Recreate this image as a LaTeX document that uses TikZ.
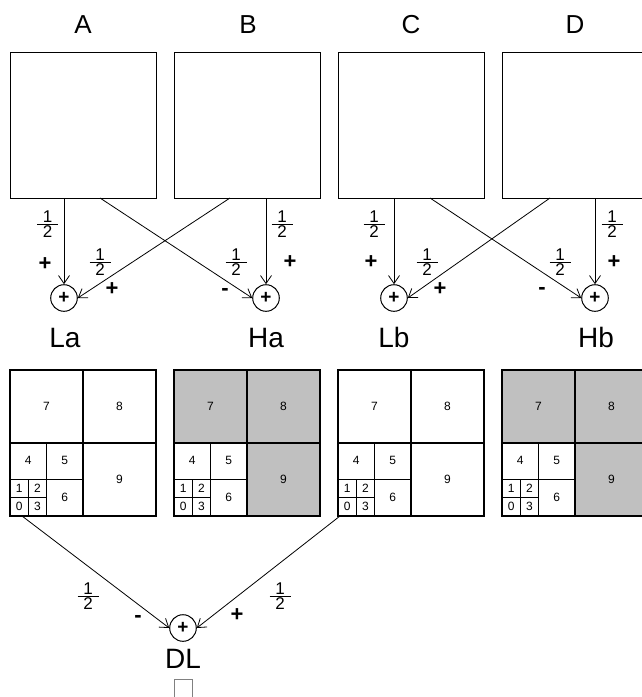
\documentclass[tikz,border=0pt]{standalone}
\usepackage{fontspec}
\setmainfont{Liberation Sans}
\usetikzlibrary{arrows.meta}

% one half, with a wide fraction bar
\newcommand{\hf}{\vbox{\hbox to 21pt{\hfil 1\hfil}\kern1.4pt\hrule height 0.8pt\kern1.4pt\hbox to 21pt{\hfil 2\hfil}}}

\tikzset{
  band/.style={draw, line width=1pt, minimum width=146pt, minimum height=146pt,
    inner sep=0pt, anchor=north west},
  title/.style={font=\fontsize{26}{26}\selectfont, anchor=base, inner sep=0pt},
  sumlabel/.style={font=\fontsize{28}{28}\selectfont, anchor=base, inner sep=0pt},
  adder/.style={draw, circle, line width=1pt, minimum size=26.6pt, inner sep=0pt,
    font=\bfseries\fontsize{19}{19}\selectfont},
  arr/.style={line width=0.8pt, -{Straight Barb[length=8pt,width=11pt]}},
  frac/.style={font=\fontsize{17}{17}\selectfont, inner sep=0pt},
  sgn/.style={font=\bfseries\fontsize{22}{22}\selectfont, inner sep=0pt,
    text height=0.66em, text depth=0pt},
  blk/.style={line width=1.2pt},
  shade/.style={fill={rgb,255:red,192;green,192;blue,192}},
  num/.style={font=\fontsize{12}{12}\selectfont, inner sep=0pt,
    text height=0.716em, text depth=0pt},
}

\begin{document}
\begin{tikzpicture}[x=1pt, y=-1pt]
\useasboundingbox (0,0) rectangle (642,697);
\clip (0,0) rectangle (642,697);

% input bands
\node[band] (A) at (10,52) {};
\node[band] (B) at (174,52) {};
\node[band] (C) at (338,52) {};
\node[band] (D) at (502,52) {};
\node[title] (tA) at (83,33) {A};
\node[title] (tB) at (248,33) {B};
\node[title] (tC) at (411,33) {C};
\node[title] (tD) at (575,33) {D};

% first-stage adders
\node[adder] (La) at (64,298) {+};
\node[adder] (Ha) at (266,298) {+};
\node[adder] (Lb) at (394,298) {+};
\node[adder] (Hb) at (595,298) {+};
\node[sumlabel] (nLa) at (65,347) {La};
\node[sumlabel] (nHa) at (266,347) {Ha};
\node[sumlabel] (nLb) at (394,347) {Lb};
\node[sumlabel] (nHb) at (596,347) {Hb};

% tap points on the band edges
\coordinate (a2) at (100,198);
\coordinate (b1) at (230,198);
\coordinate (c2) at (430,198);
\coordinate (d1) at (550,198);

\draw[arr] (La |- A.south) -- (La);
\draw[arr] (a2) -- (Ha.west);
\draw[arr] (b1) -- (La.east);
\draw[arr] (Ha |- B.south) -- (Ha);
\draw[arr] (Lb |- C.south) -- (Lb);
\draw[arr] (c2) -- (Hb.west);
\draw[arr] (d1) -- (Lb.east);
\draw[arr] (Hb |- D.south) -- (Hb);

% weights and signs
\node[frac] (w1) at (47.5,224) {\hf};
\node[frac] (w2) at (100,262) {\hf};
\node[frac] (w3) at (236,262) {\hf};
\node[frac] (w4) at (282,224) {\hf};
\node[frac] (w5) at (374,224) {\hf};
\node[frac] (w6) at (427,262) {\hf};
\node[frac] (w7) at (560,262) {\hf};
\node[frac] (w8) at (612,224) {\hf};
\node[sgn] (s1) at (45,267) {+};
\node[sgn] (s2) at (112,292) {+};
\node[sgn] (s3) at (225,292) {-};
\node[sgn] (s4) at (290,265) {+};
\node[sgn] (s5) at (371,265) {+};
\node[sgn] (s6) at (440,292) {+};
\node[sgn] (s7) at (542,291) {-};
\node[sgn] (s8) at (614,265) {+};

% subband decompositions
\foreach \nm/\x/\sh in {LA/10/0, HA/174/1, LB/338/0, HB/502/1} {
  \begin{scope}[shift={(\x,370)}]
    \ifnum\sh=1
      \fill[shade] (0,0) rectangle (146,73);
      \fill[shade] (73,73) rectangle (146,146);
    \fi
    \node[minimum size=146pt, inner sep=0pt, anchor=north west] (blk\nm) at (0,0) {};
    \draw[blk] (0,0) rectangle (146,146);
    \draw[blk] (73,0) -- (73,146) (0,73) -- (146,73);
    \draw[blk] (36.5,73) -- (36.5,146) (0,109.5) -- (73,109.5);
    \draw[blk] (18.25,109.5) -- (18.25,146) (0,127.75) -- (36.5,127.75);
    \node[num] at (36.5,36.5) {7};
    \node[num] at (109.5,36.5) {8};
    \node[num] at (109.5,109.5) {9};
    \node[num] at (18.25,91.25) {4};
    \node[num] at (54.75,91.25) {5};
    \node[num] at (54.75,127.75) {6};
    \node[num] at (9.125,118.6) {1};
    \node[num] at (27.4,118.6) {2};
    \node[num] at (9.125,136.9) {0};
    \node[num] at (27.4,136.9) {3};
  \end{scope}
}

% second-stage adder
\node[adder] (DL) at (183,628) {+};
\node[sumlabel] (nDL) at (183,668) {DL};
\node[draw=gray, line width=0.8pt, minimum size=18pt, inner sep=0pt] (sq) at (183.5,688) {};

\coordinate (e1) at (22,516);
\coordinate (e2) at (340,516);
\draw[arr] (e1) -- (DL.west);
\draw[arr] (e2) -- (DL.east);
\node[frac] (w9) at (88,596) {\hf};
\node[frac] (w10) at (280,596) {\hf};
\node[sgn] (s9) at (138,619) {-};
\node[sgn] (s10) at (237,618) {+};
\end{tikzpicture}
\end{document}
